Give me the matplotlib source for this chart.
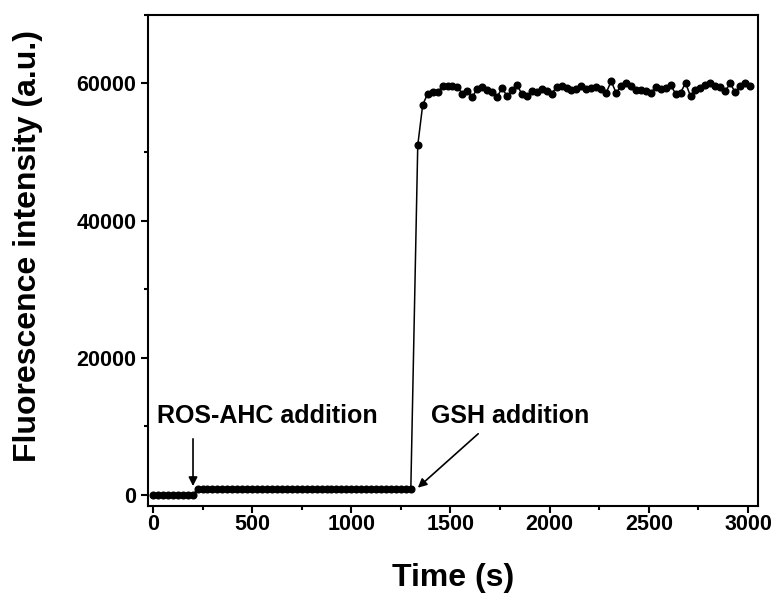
import numpy as np
import matplotlib
matplotlib.use("Agg")
import matplotlib.pyplot as plt
from matplotlib.ticker import MultipleLocator

plt.rcParams["font.family"] = ["Liberation Sans", "DejaVu Sans"]
plt.rcParams["font.weight"] = "bold"

# fluorescence trace, sampled every ~25 s
dt = 25
# before ROS-AHC addition
low_vals = [0, 0, 0, 0, 0, 0, 0, 0, 0]
# after ROS-AHC addition, before GSH
mid_vals = [850, 850, 850, 850, 850, 850, 850, 850, 850, 850, 850,
            850, 850, 850, 850, 850, 850, 850, 850, 850, 850, 850,
            850, 850, 850, 850, 850, 850, 850, 850, 850, 850, 850,
            850, 850, 850, 850, 850, 850, 850, 850, 850, 850, 850]
# after GSH addition
high_vals = [51000, 56900, 58500, 58730, 58730, 59600, 59600, 59600, 59460,
             58500, 58880, 58060, 59220, 59460, 58980, 58730, 58000, 59370,
             58150, 58980, 59750, 58500, 58150, 58900, 58730, 59220, 58880,
             58500, 59510, 59610, 59370, 59030, 59220, 59610, 59220, 59370,
             59510, 59220, 58640, 60340, 58640, 59610, 60100, 59610, 59120,
             59030, 58880, 58640, 59510, 59220, 59370, 59710, 58540, 58640,
             60100, 58150, 59120, 59370, 59710, 60100, 59610, 59510, 58880,
             60000, 58740, 59610, 60000, 59610]

t_low = dt * np.arange(len(low_vals))
t_mid = 225 + dt * np.arange(len(mid_vals))
t_high = 1335 + dt * np.arange(len(high_vals))

t = np.concatenate([t_low, t_mid, t_high])
y = np.concatenate([low_vals, mid_vals, high_vals])

fig = plt.figure(figsize=(7.83, 5.96), dpi=100)
ax = fig.add_axes([0.189, 0.151, 0.779, 0.824])

ax.plot(t, y, "-", color="black", lw=1.1)
ax.plot(t, y, "o", color="black", markersize=4.8)

ax.set_xlim(-25, 3050)
ax.set_ylim(-1600, 70000)
ax.xaxis.set_major_locator(MultipleLocator(500))
ax.xaxis.set_minor_locator(MultipleLocator(250))
ax.yaxis.set_major_locator(MultipleLocator(20000))
ax.yaxis.set_minor_locator(MultipleLocator(10000))
ax.tick_params(which="major", direction="out", length=5, width=1.5, labelsize=15.5)
ax.tick_params(axis="x", which="major", pad=1)
ax.tick_params(which="minor", direction="out", length=3, width=1.5)
for sp in ax.spines.values():
    sp.set_linewidth(1.5)

ax.set_xlabel("Time (s)", fontsize=23, fontweight="bold", labelpad=20)
ax.set_ylabel("Fluorescence intensity (a.u.)", fontsize=23, fontweight="bold")
ax.yaxis.set_label_coords(-0.172, 0.53)

arrow = dict(arrowstyle="-|>", color="black", lw=1.2, mutation_scale=13)
ax.text(20, 11500, "ROS-AHC addition", fontsize=18, fontweight="bold", va="center")
ax.annotate("", xy=(202, 900), xytext=(202, 8600), arrowprops=arrow)
ax.text(1400, 11500, "GSH addition", fontsize=18, fontweight="bold", va="center")
ax.annotate("", xy=(1325, 800), xytext=(1650, 9200), arrowprops=arrow)

fig.savefig("out.png", dpi=100)
